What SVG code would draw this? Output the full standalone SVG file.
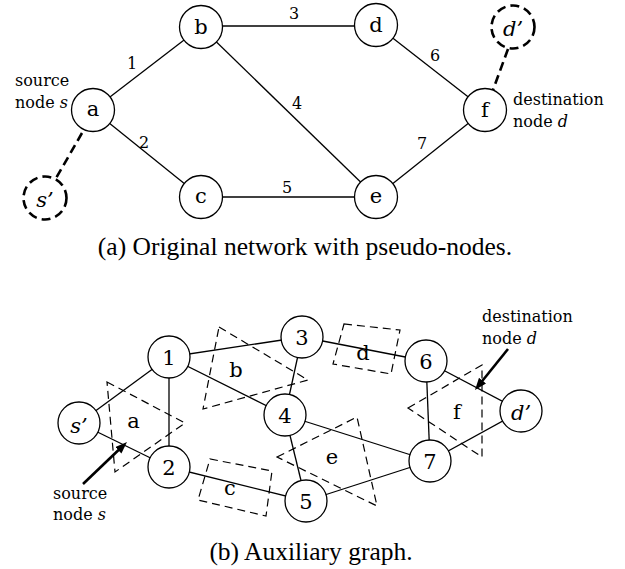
<svg xmlns="http://www.w3.org/2000/svg" width="625" height="569" viewBox="0 0 625 569">
  <style>
    .edge { stroke: #000; stroke-width: 1.3; fill: none; }
    .pseudo-edge { stroke: #000; stroke-width: 2.6; stroke-dasharray: 9 5; fill: none; }
    .node { fill: #fff; stroke: #000; stroke-width: 1.3; }
    .pseudo-node { fill: #fff; stroke: #000; stroke-width: 2.6; stroke-dasharray: 9 5; }
    .region { fill: none; stroke: #000; stroke-width: 1.2; stroke-dasharray: 8 5; }
    .pointer { stroke: #000; stroke-width: 2.6; fill: none; }
    .lbl { font-family: "DejaVu Serif", serif; font-size: 21px; text-anchor: middle; fill: #000; }
    .it { font-style: italic; }
    .wt { font-family: "DejaVu Serif", serif; font-size: 16px; text-anchor: middle; fill: #000; }
    .note { font-family: "DejaVu Serif", serif; font-size: 16px; fill: #000; }
    .cap { font-family: "Liberation Serif", "Times New Roman", serif; font-size: 25.5px; text-anchor: middle; fill: #000; }
  </style>
  <defs>
    <marker id="head" markerUnits="userSpaceOnUse" markerWidth="13" markerHeight="10" refX="4" refY="4.5" orient="auto">
      <path d="M0,0 L12,4.5 L0,9 z" fill="#000"/>
    </marker>
  </defs>

  <!-- ===== (a) original network ===== -->
  <g id="edges-a">
    <line class="edge" x1="93" y1="110" x2="201" y2="27"/>
    <line class="edge" x1="93" y1="110" x2="201" y2="197"/>
    <line class="edge" x1="201" y1="26" x2="376" y2="26"/>
    <line class="edge" x1="201" y1="27" x2="376" y2="197"/>
    <line class="edge" x1="201" y1="197" x2="376" y2="197"/>
    <line class="edge" x1="376" y1="25" x2="485" y2="110"/>
    <line class="edge" x1="376" y1="197" x2="485" y2="110"/>
    <line class="pseudo-edge" x1="82" y1="133" x2="55" y2="180"/>
    <line class="pseudo-edge" x1="508" y1="49" x2="493" y2="90"/>
    <text class="wt" x="132" y="69">1</text>
    <text class="wt" x="144" y="148">2</text>
    <text class="wt" x="294" y="19">3</text>
    <text class="wt" x="297" y="109">4</text>
    <text class="wt" x="287" y="193">5</text>
    <text class="wt" x="435" y="61">6</text>
    <text class="wt" x="422" y="149">7</text>
  </g>

  <g id="node-a"><circle class="node" cx="93" cy="110" r="21.5"/><text class="lbl" x="93" y="116">a</text></g>
  <g id="node-b"><circle class="node" cx="201" cy="27" r="21.5"/><text class="lbl" x="201" y="34">b</text></g>
  <g id="node-c"><circle class="node" cx="201" cy="197" r="21.5"/><text class="lbl" x="201" y="203">c</text></g>
  <g id="node-d"><circle class="node" cx="376" cy="25" r="21.5"/><text class="lbl" x="376" y="32">d</text></g>
  <g id="node-e"><circle class="node" cx="376" cy="197" r="21.5"/><text class="lbl" x="376" y="203">e</text></g>
  <g id="node-f"><circle class="node" cx="485" cy="110" r="21.5"/><text class="lbl" x="485" y="117">f</text></g>
  <g id="node-s-pseudo"><circle class="pseudo-node" cx="45" cy="198" r="21.5"/><text class="lbl it" x="45" y="207">s’</text></g>
  <g id="node-d-pseudo"><circle class="pseudo-node" cx="513" cy="27" r="21.5"/><text class="lbl it" x="513" y="36">d’</text></g>

  <g id="notes-a">
    <text class="note" x="15" y="86">source</text>
    <text class="note" x="15" y="108">node <tspan class="it">s</tspan></text>
    <text class="note" x="513" y="105">destination</text>
    <text class="note" x="513" y="127">node <tspan class="it">d</tspan></text>
  </g>

  <text class="cap" x="305" y="255">(a) Original network with pseudo-nodes.</text>

  <!-- ===== (b) auxiliary graph ===== -->
  <g id="edges-b">
    <line class="edge" x1="79" y1="423" x2="169" y2="357"/>
    <line class="edge" x1="79" y1="423" x2="169" y2="467"/>
    <line class="edge" x1="169" y1="357" x2="169" y2="467"/>
    <line class="edge" x1="169" y1="357" x2="302" y2="337"/>
    <line class="edge" x1="169" y1="357" x2="285" y2="415"/>
    <line class="edge" x1="302" y1="337" x2="285" y2="415"/>
    <line class="edge" x1="302" y1="337" x2="426" y2="361"/>
    <line class="edge" x1="285" y1="415" x2="430" y2="461"/>
    <line class="edge" x1="285" y1="415" x2="306" y2="501"/>
    <line class="edge" x1="169" y1="467" x2="306" y2="501"/>
    <line class="edge" x1="306" y1="501" x2="430" y2="461"/>
    <line class="edge" x1="426" y1="361" x2="430" y2="461"/>
    <line class="edge" x1="426" y1="361" x2="521" y2="411"/>
    <line class="edge" x1="430" y1="461" x2="521" y2="411"/>
  </g>

  <g id="regions">
    <polygon class="region" points="107,382 185,423 115,472"/>
    <polygon class="region" points="219,327 308,380 203,409"/>
    <polygon class="region" points="210,459 272,471 266,516 198,500"/>
    <polygon class="region" points="344,324 400,330 391,374 333,364"/>
    <polygon class="region" points="277,457 357,417 377,506"/>
    <polygon class="region" points="408,408 482,365 482,457"/>
    <text class="lbl" x="133.5" y="428">a</text>
    <text class="lbl" x="236" y="377">b</text>
    <text class="lbl" x="230" y="495">c</text>
    <text class="lbl" x="363" y="360">d</text>
    <text class="lbl" x="332" y="464">e</text>
    <text class="lbl" x="457" y="419">f</text>
  </g>

  <g id="node-1"><circle class="node" cx="169" cy="357" r="21"/><text class="lbl" x="169" y="365">1</text></g>
  <g id="node-2"><circle class="node" cx="169" cy="467" r="21"/><text class="lbl" x="169" y="475">2</text></g>
  <g id="node-3"><circle class="node" cx="302" cy="337" r="21"/><text class="lbl" x="302" y="345">3</text></g>
  <g id="node-4"><circle class="node" cx="285" cy="415" r="21"/><text class="lbl" x="285" y="423">4</text></g>
  <g id="node-5"><circle class="node" cx="306" cy="501" r="21"/><text class="lbl" x="306" y="509">5</text></g>
  <g id="node-6"><circle class="node" cx="426" cy="361" r="21"/><text class="lbl" x="426" y="369">6</text></g>
  <g id="node-7"><circle class="node" cx="430" cy="461" r="21"/><text class="lbl" x="430" y="469">7</text></g>
  <g id="node-s-prime"><circle class="node" cx="79" cy="423" r="21"/><text class="lbl it" x="79" y="433">s’</text></g>
  <g id="node-d-prime"><circle class="node" cx="521" cy="411" r="21"/><text class="lbl it" x="521" y="420">d’</text></g>

  <g id="pointers">
    <line class="pointer" x1="83" y1="484" x2="121.2" y2="447.5" marker-end="url(#head)"/>
    <line class="pointer" x1="508" y1="349" x2="480" y2="383.8" marker-end="url(#head)"/>
  </g>

  <g id="notes-b">
    <text class="note" x="53" y="499">source</text>
    <text class="note" x="53" y="520">node <tspan class="it">s</tspan></text>
    <text class="note" x="482" y="322">destination</text>
    <text class="note" x="482" y="344">node <tspan class="it">d</tspan></text>
  </g>

  <text class="cap" x="311" y="560">(b) Auxiliary graph.</text>
</svg>
